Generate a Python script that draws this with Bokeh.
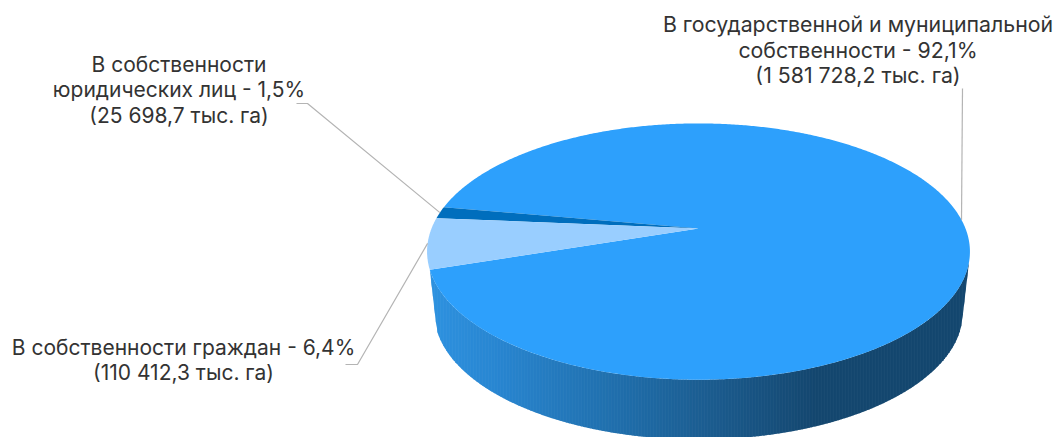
import numpy as np
from bokeh.plotting import figure
from bokeh.models import Range1d
from bokeh.core.properties import value
from bokeh.embed import file_html
from bokeh.resources import INLINE

# Land area by ownership, thousand hectares
categories = ["Государственная и муниципальная", "Юридические лица", "Граждане"]
areas = [1581728.2, 25698.7, 110412.3]
slice_colors = ["#2da0fc", "#006ebd", "#99ceff"]

label_lines = [
    ["В государственной и муниципальной", "собственности - 92,1%", "(1 581 728,2 тыс. га)"],
    ["В собственности", "юридических лиц - 1,5%", "(25 698,7 тыс. га)"],
    ["В собственности граждан - 6,4%", "(110 412,3 тыс. га)"],
]
label_centers = [857.5, 178.5, 183.0]
label_first_line = [23.5, 63.5, 346.5]
label_sizes = ["21.3px", "21px", "21px"]
line_step = 25.5
# Elbow of each leader line, in screen units: (text end, bend)
leader_elbows = [
    [(962.0, 88.0)],
    [(296.0, 103.0), (307.0, 103.0)],
    [(345.0, 364.0), (357.0, 364.0)],
]

# Perspective disc: far rim is shorter than the near rim
CX = 698.0
TILT = 0.18
TOP_RY, TOP_RX, TOP_APEX = 124.0, 267.0, 228.0
BASE_RY, BASE_RX, BASE_APEX = 123.0, 260.0, 289.0
START_DEG = 198.3  # first slice begins here, running counter-clockwise
WALL_END_DEG = 345.0

grad_x = [429, 500, 560, 630, 700, 760, 815, 970]
grad_rgb = np.array([
    [0x2e, 0x92, 0xe0],
    [0x28, 0x85, 0xd0],
    [0x24, 0x79, 0xbc],
    [0x1f, 0x6c, 0xa8],
    [0x1c, 0x5e, 0x92],
    [0x18, 0x52, 0x80],
    [0x14, 0x47, 0x6f],
    [0x14, 0x47, 0x6f],
])


def project(deg, rx, ry, apex):
    t = np.radians(deg)
    denom = 1 + TILT * np.sin(t)
    return CX + rx * np.cos(t) / denom, apex - ry * np.sin(t) / denom


def top_rim(deg):
    return project(deg, TOP_RX, TOP_RY, TOP_APEX)


def base_rim(deg):
    return project(deg, BASE_RX, BASE_RY, BASE_APEX)


def wall_color(x):
    rgb = [int(round(np.interp(x, grad_x, grad_rgb[:, i]))) for i in range(3)]
    return "#%02x%02x%02x" % tuple(rgb)


p = figure(width=1054, height=437, output_backend="svg", toolbar_location=None,
           x_range=Range1d(0, 1054), y_range=Range1d(437, 0),
           min_border=0, outline_line_color=None)
p.axis.visible = False
p.grid.visible = False

# Slice angles follow from the areas
total = sum(areas)
sweeps = [a / total * 360.0 for a in areas]
starts = START_DEG + np.concatenate([[0.0], np.cumsum(sweeps)[:-1]])

# Side wall: vertical strips between the two rims, shaded by horizontal position
sweep_deg = np.linspace(START_DEG, WALL_END_DEG, 400)
upper_x, upper_y = top_rim(sweep_deg)
lower_x, lower_y = base_rim(sweep_deg)
# The wall's lower outline starts and ends on the top rim's corners
lower_x = np.r_[upper_x[0], lower_x, upper_x[-1]]
lower_y = np.r_[upper_y[0], lower_y, upper_y[-1]]
columns = np.arange(upper_x[0], upper_x[-1], 1.5)
xs, ys, fills = [], [], []
for x0 in columns:
    x1 = min(x0 + 2.1, upper_x[-1])  # overlaps the next strip so no seam shows
    xs.append([x0, x1, x1, x0])
    ys.append([np.interp(x0, upper_x, upper_y), np.interp(x1, upper_x, upper_y),
               np.interp(x1, lower_x, lower_y), np.interp(x0, lower_x, lower_y)])
    fills.append(wall_color(x0 + 0.75))
p.patches(xs, ys, fill_color=fills, line_color=None)

# Top face
for start, sweep, color in zip(starts, sweeps, slice_colors):
    arc = np.linspace(start, start + sweep, max(8, int(sweep * 2)))
    rx, ry = top_rim(arc)
    p.patch(np.r_[CX, rx], np.r_[TOP_APEX, ry], fill_color=color, line_color=None)

# Leader lines run from each slice's rim midpoint out to its label
for start, sweep, elbow in zip(starts, sweeps, leader_elbows):
    ax, ay = top_rim(start + sweep / 2)
    lx = [pt[0] for pt in elbow] + [float(ax)]
    ly = [pt[1] for pt in elbow] + [float(ay)]
    p.line(lx, ly, line_color="#b4b4b4", line_width=1.2)

# Labels
for lines, cx, y0, size in zip(label_lines, label_centers, label_first_line, label_sizes):
    p.text([cx] * len(lines), [y0 + i * line_step for i in range(len(lines))], text=lines,
           text_font=value("Inter"), text_font_size=size,
           text_color="#333333", text_align="center", text_baseline="middle")

open("out.html", "w").write(file_html(p, INLINE))
